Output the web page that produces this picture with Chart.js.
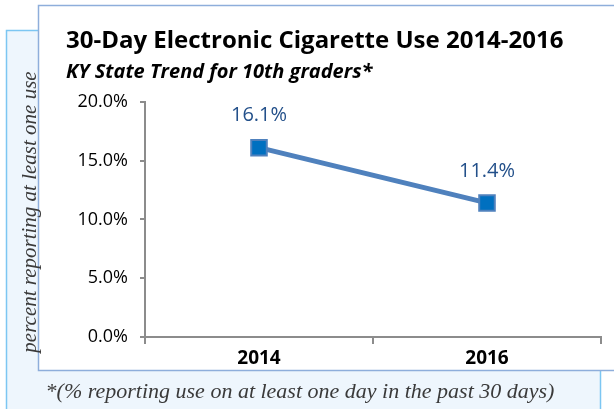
<!DOCTYPE html>
<html>
<head>
<meta charset="utf-8">
<script src="https://cdn.jsdelivr.net/npm/chart.js@4.4.1/dist/chart.umd.min.js"></script>
<style>
  html, body { margin: 0; padding: 0; background: #fff; }
</style>
</head>
<body>
<canvas id="eCigChart" width="614" height="409"></canvas>
<script>
// data
const years = ["2014", "2016"];
const pctUse = [16.1, 11.4];
const yTicks = [0, 5, 10, 15, 20];

const titleText = "30-Day Electronic Cigarette Use 2014-2016";
const subtitleText = "KY State Trend for 10th graders*";
const yAxisText = "percent reporting at least one use";
const footText = "*(% reporting use on at least one day in the past 30 days)";

const axisGray = "#8c8c8c";

// background boxes + text outside the plot
const framePlugin = {
  id: "frame",
  beforeDraw(chart) {
    const c = chart.ctx;
    c.save();
    // light blue box behind
    c.fillStyle = "#eef6fd";
    c.fillRect(6, 30, 594, 400);
    c.strokeStyle = "#7cc6f2";
    c.lineWidth = 1.5;
    c.strokeRect(6.5, 30.5, 594, 400);
    // white panel in front
    c.fillStyle = "#ffffff";
    c.fillRect(38, 5, 600, 365);
    c.strokeStyle = "#8eaedb";
    c.strokeRect(38.5, 5.5, 600, 365);
    c.restore();
  },
  afterDraw(chart) {
    const c = chart.ctx;
    c.save();
    c.fillStyle = "#3a3a3a";
    c.textAlign = "center";
    c.textBaseline = "middle";
    // rotated y label
    c.save();
    c.font = "italic 21px 'Liberation Serif', 'DejaVu Serif', serif";
    c.translate(30, 212);
    c.rotate(-Math.PI / 2);
    c.fillText(yAxisText, 0, 0);
    c.restore();
    // footnote
    c.font = "italic 22px 'Liberation Serif', 'DejaVu Serif', serif";
    c.fillText(footText, 300, 392);
    c.restore();
  }
};

// value labels above the markers
const valueLabels = {
  id: "valueLabels",
  afterDatasetsDraw(chart) {
    const c = chart.ctx;
    const meta = chart.getDatasetMeta(0);
    c.save();
    c.fillStyle = "#23508a";
    c.font = "20px 'Open Sans', sans-serif";
    c.textAlign = "center";
    c.textBaseline = "middle";
    meta.data.forEach(function (pt, i) {
      c.fillText(pctUse[i].toFixed(1) + "%", pt.x, pt.y - 32);
    });
    c.restore();
  }
};

Chart.defaults.font.family = "'Open Sans', sans-serif";

new Chart(document.getElementById("eCigChart"), {
  type: "line",
  data: {
    labels: years,
    datasets: [{
      data: pctUse,
      borderColor: "#4f81bd",
      borderWidth: 5,
      tension: 0,
      pointStyle: "rect",
      pointRadius: 11,
      pointBackgroundColor: "#0070c0",
      pointBorderColor: "#4f81bd",
      pointBorderWidth: 2,
      clip: false
    }]
  },
  options: {
    responsive: false,
    animation: false,
    layout: { padding: { top: 27, left: 66, right: 12, bottom: 0 } },
    plugins: {
      legend: { display: false },
      tooltip: { enabled: false },
      title: {
        display: true,
        text: titleText,
        align: "start",
        color: "#000",
        font: { size: 24, weight: "bold" },
        padding: { top: 0, bottom: 0 }
      },
      subtitle: {
        display: true,
        text: subtitleText,
        align: "start",
        color: "#000",
        font: { size: 20, weight: "bold", style: "italic" },
        padding: { top: 4, bottom: 18 }
      }
    },
    scales: {
      x: {
        offset: true,
        grid: {
          offset: true,
          drawOnChartArea: false,
          tickLength: 7,
          color: axisGray,
          lineWidth: 2
        },
        border: { color: axisGray, width: 2 },
        ticks: {
          color: "#000",
          padding: 3,
          font: { size: 19, weight: "bold" }
        },
        afterFit(s) { s.height = 72; }
      },
      y: {
        min: 0,
        max: 20,
        afterBuildTicks(s) { s.ticks = yTicks.map(v => ({ value: v })); },
        grid: {
          drawOnChartArea: false,
          tickLength: 5,
          color: axisGray,
          lineWidth: 2
        },
        border: { color: axisGray, width: 2 },
        ticks: {
          color: "#000",
          padding: 12,
          font: { size: 18 },
          callback: v => v.toFixed(1) + "%"
        },
        afterFit(s) { s.width = 79; }
      }
    }
  },
  plugins: [framePlugin, valueLabels]
});
</script>
</body>
</html>
